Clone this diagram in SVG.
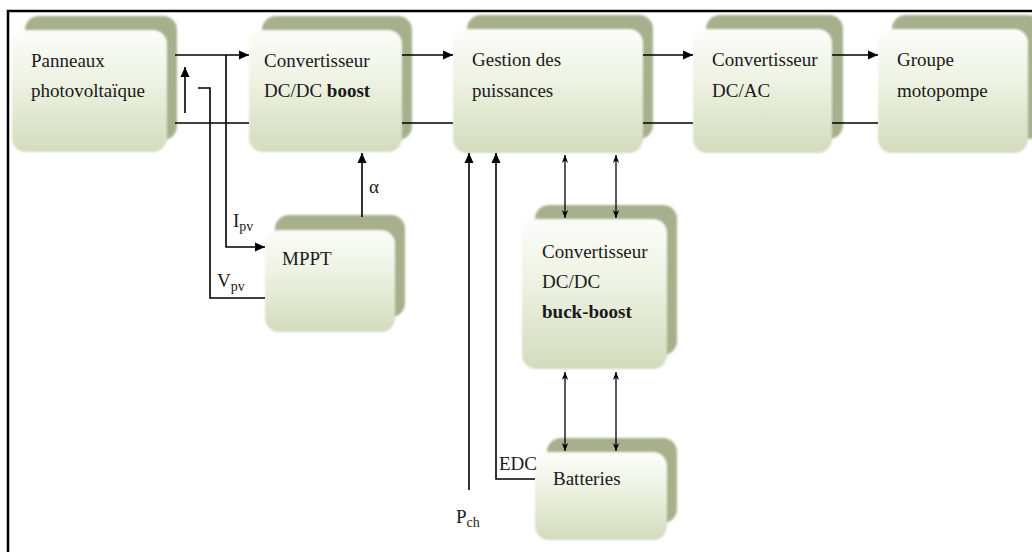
<svg xmlns="http://www.w3.org/2000/svg" width="1032" height="552" viewBox="0 0 1032 552">
<style>
.back{fill:#a7b08d;filter:url(#soft)}
.front{fill:url(#g);filter:url(#soft)}
.t{font-family:"Liberation Serif","Times New Roman",serif;font-size:19px;fill:#1a1a1a}
.b{font-weight:bold}
.c{fill:none;stroke:#000;stroke-width:1.6}
.c2{fill:none;stroke:#000;stroke-width:1.3}
.frame{fill:none;stroke:#000;stroke-width:2.5}
</style>
<defs>
<linearGradient id="g" x1="0" y1="0" x2="0" y2="1">
<stop offset="0" stop-color="#fcfdf9"/>
<stop offset="0.4" stop-color="#eef3e4"/>
<stop offset="1" stop-color="#d2dcbc"/>
</linearGradient>
<filter id="soft" x="-5%" y="-5%" width="110%" height="110%"><feGaussianBlur stdDeviation="0.8"/></filter>
<marker id="ah" viewBox="0 0 10 10" refX="10" refY="5" markerWidth="10" markerHeight="10" markerUnits="userSpaceOnUse" orient="auto"><path d="M0,0.5 L10,5 L0,9.5 z" fill="#000"/></marker>
<marker id="sh" viewBox="0 0 10 10" refX="10" refY="5" markerWidth="8" markerHeight="8" markerUnits="userSpaceOnUse" orient="auto-start-reverse"><path d="M0,1 L10,5 L0,9 L3,5 z" fill="#000"/></marker>
</defs>
<rect width="1032" height="552" fill="#fff"/>
<path class="frame" d="M8,552 V11 H1032"/>

<g id="panneaux">
<rect class="back" x="25" y="16" width="152" height="124" rx="14"/>
<rect class="front" x="12" y="30" width="155" height="122" rx="14"/>
<text class="t" x="31" y="67">Panneaux</text>
<text class="t" x="31" y="97">photovoltaïque</text>
</g>
<g id="boost">
<rect class="back" x="262" y="16" width="150" height="124" rx="14"/>
<rect class="front" x="249" y="30" width="153" height="122" rx="14"/>
<text class="t" x="264" y="67">Convertisseur</text>
<text class="t" x="264" y="97">DC/DC <tspan class="b">boost</tspan></text>
</g>
<g id="gestion">
<rect class="back" x="467" y="15" width="186" height="124" rx="14"/>
<rect class="front" x="453" y="29" width="190" height="124" rx="14"/>
<text class="t" x="472" y="66">Gestion des</text>
<text class="t" x="472" y="97">puissances</text>
</g>
<g id="dcac">
<rect class="back" x="706" y="15" width="137" height="124" rx="14"/>
<rect class="front" x="693" y="29" width="139" height="124" rx="14"/>
<text class="t" x="712" y="66">Convertisseur</text>
<text class="t" x="712" y="97">DC/AC</text>
</g>
<g id="groupe">
<rect class="back" x="892" y="15" width="150" height="124" rx="14"/>
<rect class="front" x="878" y="29" width="150" height="124" rx="14"/>
<text class="t" x="897" y="66">Groupe</text>
<text class="t" x="897" y="97">motopompe</text>
</g>
<g id="mppt">
<rect class="back" x="275" y="215" width="130" height="102" rx="14"/>
<rect class="front" x="265" y="230" width="130" height="102" rx="14"/>
<text class="t" x="282" y="265">MPPT</text>
</g>
<g id="buckboost">
<rect class="back" x="535" y="205" width="142" height="150" rx="14"/>
<rect class="front" x="522" y="219" width="145" height="150" rx="14"/>
<text class="t" x="542" y="258">Convertisseur</text>
<text class="t" x="542" y="288">DC/DC</text>
<text class="t b" x="542" y="318">buck-boost</text>
</g>
<g id="batteries">
<rect class="back" x="547" y="438" width="130" height="85" rx="14"/>
<rect class="front" x="535" y="452" width="132" height="88" rx="14"/>
<text class="t" x="553" y="485">Batteries</text>
</g>

<g id="connectors">
<path class="c" d="M175,55 H249" marker-end="url(#ah)"/>
<path class="c" d="M175,123 H249"/>
<path class="c" d="M402,55 H453" marker-end="url(#ah)"/>
<path class="c" d="M402,123 H453"/>
<path class="c" d="M643,55 H693" marker-end="url(#ah)"/>
<path class="c" d="M643,123 H693"/>
<path class="c" d="M832,55 H878" marker-end="url(#ah)"/>
<path class="c" d="M832,123 H878"/>
<path class="c" d="M226,55 V247 H265" marker-end="url(#ah)"/>
<path class="c" d="M198,88 H210 V298 H265"/>
<path class="c" d="M185,113 V67" marker-end="url(#ah)"/>
<path class="c" d="M362,217 V153" marker-end="url(#ah)"/>
<path class="c" d="M469,490 V153" marker-end="url(#ah)"/>
<path class="c" d="M535,479 H496 V153" marker-end="url(#ah)"/>
<path class="c2" d="M565,155 V218" marker-start="url(#sh)" marker-end="url(#sh)"/>
<path class="c2" d="M616,155 V218" marker-start="url(#sh)" marker-end="url(#sh)"/>
<path class="c2" d="M565,372 V451" marker-start="url(#sh)" marker-end="url(#sh)"/>
<path class="c2" d="M616,372 V451" marker-start="url(#sh)" marker-end="url(#sh)"/>
</g>

<g id="labels">
<text class="t" x="369" y="193">α</text>
<text class="t" x="233" y="227">I<tspan font-size="14" dy="4">pv</tspan></text>
<text class="t" x="217" y="287">V<tspan font-size="14" dy="4">pv</tspan></text>
<text class="t" x="499" y="470" font-size="17">EDC</text>
<text class="t" x="456" y="523">P<tspan font-size="14" dy="4">ch</tspan></text>
</g>
</svg>
